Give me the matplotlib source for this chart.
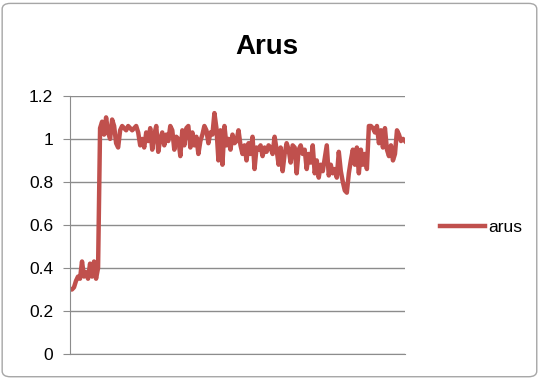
import matplotlib.pyplot as plt
from matplotlib.patches import FancyBboxPatch

# readings of the "arus" series (left to right)
start = [0.30, 0.30, 0.31, 0.34, 0.36, 0.35, 0.43, 0.36, 0.38, 0.35, 0.42, 0.36, 0.43, 0.35, 0.40]
part1 = [1.05, 1.08, 1.02, 1.10, 1.03, 1.00, 1.09, 1.06, 0.98, 0.96, 1.04, 1.06, 1.05, 1.04, 1.06, 1.05,
         1.04, 1.05, 1.06, 1.03, 0.97, 1.00, 0.96, 1.03, 0.99, 1.05, 0.95, 1.02, 1.06, 0.94, 1.00, 1.03,
         0.97, 1.02, 0.99, 1.06, 1.04, 0.95]
part2 = [1.01, 1.00, 0.92, 1.04, 0.97, 1.05, 1.06, 0.96, 1.03, 0.97, 1.01, 0.93, 0.99, 1.02, 1.06, 1.04,
         0.98, 1.03, 1.02, 1.12, 1.05, 0.90, 1.04, 0.88, 1.06, 0.97, 1.00, 0.95, 1.02, 0.98]
part3 = [0.99, 1.04, 0.97, 0.93, 0.97, 0.90, 0.98, 0.93, 1.01, 0.86, 0.96, 0.95, 0.97, 0.92, 0.96, 0.94,
         0.97, 0.96, 0.93, 1.01, 0.95, 0.88, 0.96, 0.85, 0.93, 0.98, 0.95, 0.89, 0.97, 0.96]
part4 = [0.84, 0.95, 0.97, 0.93, 0.95, 0.86, 0.93, 0.89, 0.97, 0.84, 0.90, 0.82, 0.88, 0.85, 0.91, 0.97,
         0.83, 0.88, 0.84, 0.86, 0.82, 0.94, 0.85, 0.80, 0.76]
part5 = [0.75, 0.84, 0.90, 0.95, 0.88, 0.96, 0.84, 0.95, 0.88, 0.93, 0.86, 1.06, 1.06, 1.05, 1.03, 1.06,
         0.98, 1.04, 0.96, 1.05, 0.95, 0.92, 0.97, 0.90, 0.93, 1.04, 1.02, 0.99, 1.00, 0.99]
arus = start + part1 + part2 + part3 + part4 + part5
yticks = [0, 0.2, 0.4, 0.6, 0.8, 1, 1.2]
ylabels = ['0', '0.2', '0.4', '0.6', '0.8', '1', '1.2']

fig = plt.figure(figsize=(5.4, 3.79), dpi=100)
fig.patches.append(FancyBboxPatch((0.004, 0.006), 0.99, 0.985, boxstyle='round,pad=0,rounding_size=0.015',
                                  transform=fig.transFigure, fill=False, edgecolor='#a6a6a6', linewidth=1))
ax = fig.add_axes([0.1296, 0.066, 0.6204, 0.681])

x = list(range(len(arus)))
ax.plot(x, arus, color='#c0504d', linewidth=3.2, label='arus')
ax.set_xlim(0, len(arus) - 1)
ax.set_ylim(0, 1.2)
ax.set_yticks(yticks)
ax.set_yticklabels(ylabels, fontsize=12.5, family='Liberation Sans')
ax.set_xticks([])
ax.yaxis.grid(True, color='#8c8c8c', linewidth=1)
ax.set_axisbelow(True)
for s in ['top', 'right']:
    ax.spines[s].set_visible(False)
ax.spines['left'].set_color('#8c8c8c')
ax.spines['bottom'].set_color('#8c8c8c')
ax.tick_params(axis='y', length=5, color='#8c8c8c', pad=7)

fig.text(0.495, 0.875, 'Arus', fontsize=20, fontweight='bold', ha='center', va='center', family='Liberation Sans')
fig.legend(loc='center left', bbox_to_anchor=(0.786, 0.40), frameon=False, handlelength=2.6,
           handletextpad=0.15, prop={'family': 'Liberation Sans', 'size': 12.5})

plt.savefig('out.png', dpi=100)
